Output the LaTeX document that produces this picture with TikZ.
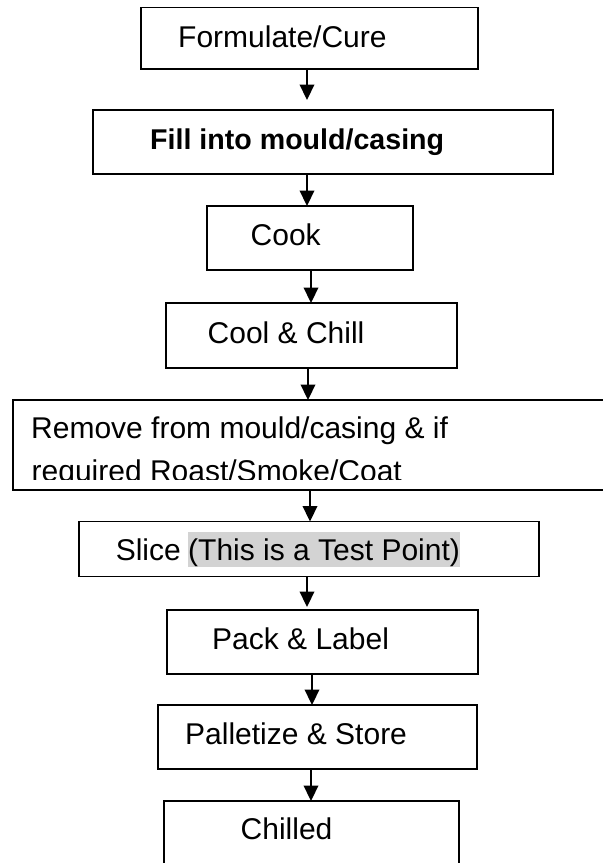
\documentclass[tikz,border=0pt]{standalone}
\usepackage{fontspec}
\setmainfont{Liberation Sans}
\usetikzlibrary{arrows.meta}
\definecolor{hl}{RGB}{211,211,211}
\begin{document}
\begin{tikzpicture}[x=1pt,y=-1pt,
  box/.style={draw=black, line width=1.5pt, inner sep=0pt, outer sep=0pt},
  txt/.style={anchor=base west, inner sep=0pt, font=\fontsize{30}{36}\selectfont},
  arr/.style={line width=2.2pt, -{Triangle[width=14.5pt,length=15.5pt]}}]
\useasboundingbox (0,0) rectangle (603,863);
\clip (0,0) rectangle (603,863);
% boxes
\node[box, minimum width=337pt, minimum height=61.5pt] (b1) at (309.5,38.25) {};
\node[box, minimum width=460pt, minimum height=64pt] (b2) at (323,142) {};
\node[box, minimum width=206pt, minimum height=64pt] (b3) at (310,238) {};
\node[box, minimum width=291pt, minimum height=65pt] (b4) at (311.5,335.5) {};
\node[box, minimum width=600pt, minimum height=90pt] (b5) at (313,445) {};
\node[box, minimum width=460pt, minimum height=55pt] (b6) at (309,549) {};
\node[box, minimum width=311pt, minimum height=64pt] (b7) at (322.5,642) {};
\node[box, minimum width=319pt, minimum height=64pt] (b8) at (317.5,737) {};
\node[box, minimum width=295pt, minimum height=79pt] (b9) at (311.5,840.5) {};
% texts
\node[txt] (t1) at (178,47) {Formulate/Cure};
\node[txt, font=\fontsize{28.6}{34}\selectfont\bfseries] (t2) at (150,149) {Fill into mould/casing};
\node[txt] (t3) at (250.5,245.5) {Cook};
\node[txt] (t4) at (207.5,343) {Cool \& Chill};
\node[txt] (t5a) at (31,438) {Remove from mould/casing \& if};
\begin{scope}
  \clip (0,0) rectangle (603,479);
  \node[txt] (t5b) at (31.5,481.5) {required Roast/Smoke/Coat};
\end{scope}
\node[txt] (t6) at (115.6,560.7) {Slice};
\node[txt, fill=hl, text height=28.7pt, text depth=6.3pt] (t6h) at (188,560.7) {(This is a Test Point)};
\node[txt] (t7) at (212,649) {Pack \& Label};
\node[txt] (t8) at (185,744.7) {Palletize \& Store};
\node[txt] (t9) at (240.5,839.7) {Chilled};
% arrow columns
\coordinate (a1) at (307,0);
\coordinate (a2) at (307,0);
\coordinate (a3) at (311,0);
\coordinate (a4) at (308,0);
\coordinate (a5) at (310,0);
\coordinate (a6) at (307,0);
\coordinate (a7) at (312,0);
\coordinate (a8) at (311,0);
% connectors
\draw[arr, shorten >=10pt] (b1.south -| a1) -- (b2.north -| a1);
\draw[arr] (b2.south -| a2) -- (b3.north -| a2);
\draw[arr] (b3.south -| a3) -- (b4.north -| a3);
\draw[arr] (b4.south -| a4) -- (b5.north -| a4);
\draw[arr] (b5.south -| a5) -- (b6.north -| a5);
\draw[arr, shorten >=3pt] (b6.south -| a6) -- (b7.north -| a6);
\draw[arr] (b7.south -| a7) -- (b8.north -| a7);
\draw[arr] (b8.south -| a8) -- (b9.north -| a8);
\end{tikzpicture}
\end{document}
